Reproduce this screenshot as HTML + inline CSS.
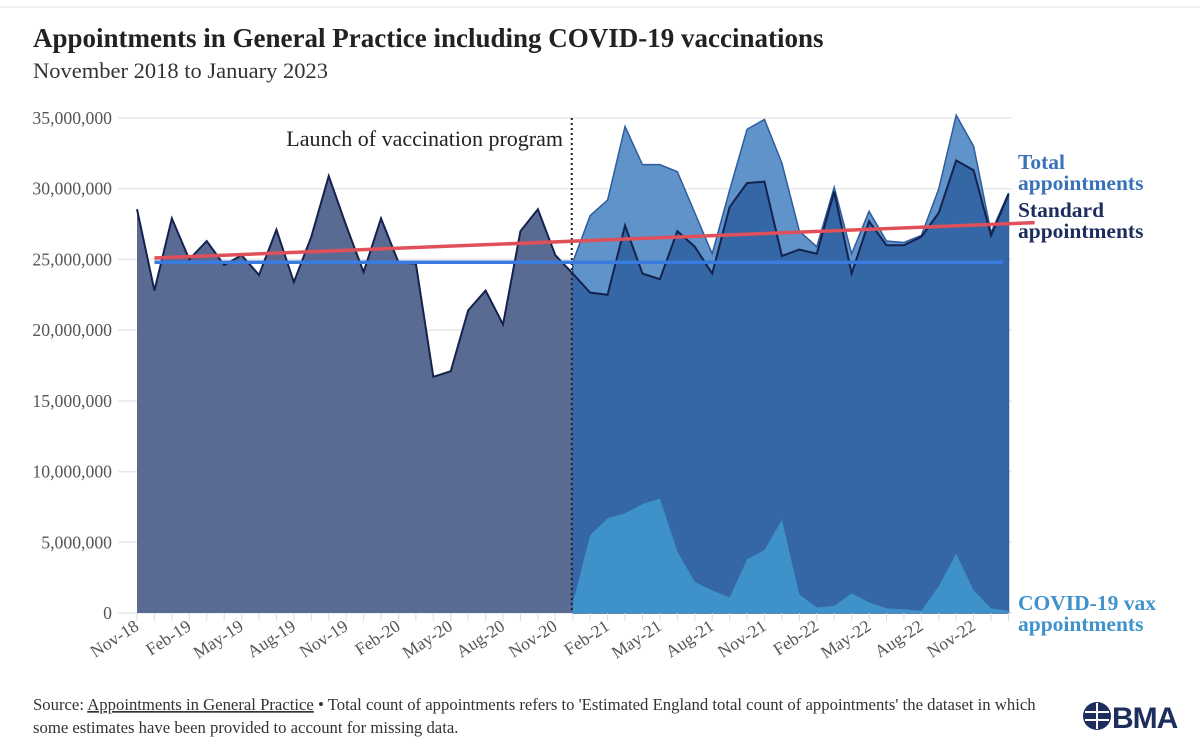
<!DOCTYPE html>
<html><head><meta charset="utf-8"><style>
body{margin:0;background:#fff;}
svg text{font-family:"Liberation Serif",serif;}
</style></head><body>
<svg width="1200" height="740" viewBox="0 0 1200 740" xmlns="http://www.w3.org/2000/svg">
<line x1="0" y1="7" x2="1200" y2="7" stroke="#e6e6e6"/>
<text x="33" y="47" font-size="27" font-weight="bold" fill="#222">Appointments in General Practice including COVID-19 vaccinations</text>
<text x="33" y="78" font-size="22.5" fill="#333">November 2018 to January 2023</text>
<g id="grid"></g>
<g id="areas"></g>
<g id="lines"></g>
<g id="xaxis"></g>
<text x="563" y="146" font-size="22" fill="#222" text-anchor="end">Launch of vaccination program</text>
<text x="1018" y="169" font-size="21.5" font-weight="bold" fill="#3a72b8"><tspan x="1018">Total</tspan><tspan x="1018" dy="21">appointments</tspan></text>
<text x="1018" y="217" font-size="21.5" font-weight="bold" fill="#1c2d5e"><tspan x="1018">Standard</tspan><tspan x="1018" dy="21">appointments</tspan></text>
<text x="1018" y="610" font-size="21.5" font-weight="bold" fill="#3f92cc"><tspan x="1018">COVID-19 vax</tspan><tspan x="1018" dy="21">appointments</tspan></text>
<text x="33" y="710" font-size="16.7" fill="#333">Source: <tspan text-decoration="underline">Appointments in General Practice</tspan> • Total count of appointments refers to 'Estimated England total count of appointments' the dataset in which</text>
<text x="33" y="733" font-size="16.7" fill="#333">some estimates have been provided to account for missing data.</text>
<g>
<circle cx="1097" cy="716" r="14" fill="#1c2d5e"/>
<line x1="1085" y1="712" x2="1109" y2="712" stroke="#fff" stroke-width="2"/>
<line x1="1085" y1="720" x2="1109" y2="720" stroke="#fff" stroke-width="2"/>
<line x1="1097" y1="703" x2="1097" y2="729" stroke="#fff" stroke-width="2"/>
<text x="1112" y="728" font-size="30" font-weight="bold" fill="#1c2d5e" style="font-family:'Liberation Sans',sans-serif" letter-spacing="-1">BMA</text>
</g>
</svg>
<script>
const months=["Nov-18","Dec-18","Jan-19","Feb-19","Mar-19","Apr-19","May-19","Jun-19","Jul-19","Aug-19","Sep-19","Oct-19","Nov-19","Dec-19","Jan-20","Feb-20","Mar-20","Apr-20","May-20","Jun-20","Jul-20","Aug-20","Sep-20","Oct-20","Nov-20","Dec-20","Jan-21","Feb-21","Mar-21","Apr-21","May-21","Jun-21","Jul-21","Aug-21","Sep-21","Oct-21","Nov-21","Dec-21","Jan-22","Feb-22","Mar-22","Apr-22","May-22","Jun-22","Jul-22","Aug-22","Sep-22","Oct-22","Nov-22","Dec-22","Jan-23"];
const standard=[28.55,22.8,27.9,25.0,26.3,24.6,25.3,23.9,27.1,23.4,26.6,30.9,27.4,24.1,27.9,24.8,24.7,16.7,17.1,21.4,22.8,20.4,27.0,28.55,25.3,24.0,22.65,22.5,27.4,24.0,23.6,27.0,25.9,24.0,28.7,30.4,30.5,25.25,25.7,25.4,29.8,24.0,27.7,26.0,26.0,26.6,28.3,32.0,31.3,26.7,29.6];
const total=[null,null,null,null,null,null,null,null,null,null,null,null,null,null,null,null,null,null,null,null,null,null,null,null,null,24.8,28.1,29.2,34.4,31.7,31.7,31.2,28.3,25.4,29.9,34.2,34.9,31.8,27.0,25.9,30.1,25.4,28.4,26.3,26.2,26.7,30.0,35.2,33.0,26.9,29.7];
const vax=[0.7,5.5,6.7,7.05,7.7,8.1,4.35,2.2,1.6,1.1,3.8,4.45,6.6,1.3,0.4,0.5,1.4,0.75,0.33,0.26,0.16,1.9,4.2,1.6,0.33,0.16];
const yTicks=[0,5,10,15,20,25,30,35];
const yTickLabels=["0","5,000,000","10,000,000","15,000,000","20,000,000","25,000,000","30,000,000","35,000,000"];
const launchIndex=25;
const trendStart=[1,25.1], trendEnd=[51.5,27.6];
const meanStart=[1,24.8], meanEnd=[49.7,24.8];

const NS="http://www.w3.org/2000/svg";
const x0=137,x1=1008.5,yb=613,yt=118;
const X=i=>x0+i*(x1-x0)/(months.length-1);
const Y=v=>yb-v*(yb-yt)/35;
function mk(tag,attrs,parent){const e=document.createElementNS(NS,tag);for(const k in attrs)e.setAttribute(k,attrs[k]);document.getElementById(parent).appendChild(e);return e;}

yTicks.forEach((t,i)=>{
 const g=mk('line',{x1:118,x2:1012,y1:Y(t),y2:Y(t),stroke:'#e8e8e8','stroke-width':1.5},'grid');
 
 
 const l=mk('text',{x:112,y:Y(t)+6,'font-size':17.7,fill:'#555','text-anchor':'end'},'grid');
 l.textContent=yTickLabels[i];
 
 
});

function areaPath(vals,from,to){let d=`M${X(from)},${yb}`;for(let i=from;i<=to;i++)d+=`L${X(i)},${Y(vals[i])}`;return d+`L${X(to)},${yb}Z`;}
function linePath(vals,from,to){let d='';for(let i=from;i<=to;i++)d+=(i==from?'M':'L')+X(i)+','+Y(vals[i]);return d;}
const N=months.length-1;
let e;
e=mk('path',{d:areaPath(standard,0,launchIndex),fill:'#5a6b93'},'areas');


e=mk('path',{d:areaPath(total,launchIndex,N),fill:'#5f93c9',stroke:'#2e5c9c','stroke-width':1.5},'areas');


e=mk('path',{d:areaPath(standard,launchIndex,N),fill:'#3566a6'},'areas');


const vaxFull=standard.map((_,i)=>i<launchIndex?0:vax[i-launchIndex]);
e=mk('path',{d:areaPath(vaxFull,launchIndex,N),fill:'#3f91c9'},'areas');


e=mk('path',{d:linePath(standard,0,N),fill:'none',stroke:'#15224e','stroke-width':2},'lines');


e=mk('line',{x1:X(launchIndex)-1,x2:X(launchIndex)-1,y1:118,y2:yb,stroke:'#222','stroke-width':2,'stroke-dasharray':'2,3'},'lines');


e=mk('line',{x1:X(meanStart[0]),y1:Y(meanStart[1]),x2:X(meanEnd[0]),y2:Y(meanEnd[1]),stroke:'#3a7be0','stroke-width':3.5},'lines');


e=mk('line',{x1:X(trendStart[0]),y1:Y(trendStart[1]),x2:X(trendEnd[0]),y2:Y(trendEnd[1]),stroke:'#e0505a','stroke-width':3.5},'lines');



months.forEach((m,i)=>{
 const t=mk('line',{x1:X(i),x2:X(i),y1:yb,y2:yb+8,stroke:'#ddd'},'xaxis');
 
 
 if(i%3===0){
  const l=mk('text',{x:X(i)+3,y:yb+16,'font-size':17.5,fill:'#555','text-anchor':'end',transform:`rotate(-33 ${X(i)+3} ${yb+16})`},'xaxis');
  l.textContent=m;
  
  
 }
});
</script>
</body></html>
